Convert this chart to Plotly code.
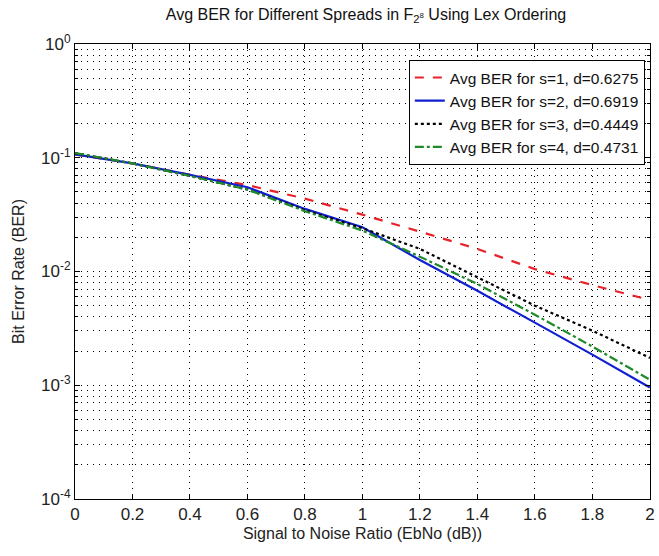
import plotly.graph_objects as go

snr_db = [0.0, 0.2, 0.4, 0.6, 0.8, 1.0, 1.2, 1.4, 1.6, 1.8, 2.0]
ber_s1 = [0.107, 0.0891, 0.0708, 0.0575, 0.0437, 0.0316, 0.0224, 0.0158, 0.0105, 0.00759, 0.00562]
ber_s2 = [0.107, 0.0891, 0.0708, 0.0550, 0.0355, 0.0245, 0.0126, 0.00676, 0.00355, 0.00186, 0.000955]
ber_s3 = [0.110, 0.0891, 0.0692, 0.0525, 0.0347, 0.0240, 0.0158, 0.00891, 0.00501, 0.00302, 0.00174]
ber_s4 = [0.110, 0.0891, 0.0692, 0.0525, 0.0339, 0.0229, 0.0135, 0.00776, 0.00417, 0.00219, 0.00112]

names = ["Avg BER for s=1, d=0.6275", "Avg BER for s=2, d=0.6919",
         "Avg BER for s=3, d=0.4449", "Avg BER for s=4, d=0.4731"]
colors = ["#e8222a", "#1020d0", "#000000", "#1f8a2a"]
dashes = ["dash", "solid", "dot", "dashdot"]

x_ticks = [0, 0.2, 0.4, 0.6, 0.8, 1, 1.2, 1.4, 1.6, 1.8, 2]
x_ticktext = ["0", "0.2", "0.4", "0.6", "0.8", "1", "1.2", "1.4", "1.6", "1.8", "2"]
y_ticks = [1e-4, 1e-3, 1e-2, 1e-1, 1]
y_ticktext = ["10<sup>-4</sup>", "10<sup>-3</sup>", "10<sup>-2</sup>", "10<sup>-1</sup>", "10<sup>0</sup>"]
y_minor = [m * d for d in [1e-4, 1e-3, 1e-2, 1e-1] for m in [2, 3, 4, 5, 6, 7, 8, 9]]

font = "Liberation Sans, Arial, sans-serif"
grid_dash = "1px,5px"

fig = go.Figure()
for ys, nm, c, d in zip([ber_s1, ber_s2, ber_s3, ber_s4], names, colors, dashes):
    fig.add_trace(go.Scatter(x=snr_db, y=ys, mode="lines", name=nm,
                             line=dict(color=c, dash=d, width=2.2)))

fig.update_layout(
    width=659, height=556,
    margin=dict(l=75, r=4, t=44, b=57),
    paper_bgcolor="white", plot_bgcolor="white",
    font=dict(family=font, size=16, color="#222222"),
    title=dict(text="Avg BER for Different Spreads in F<sub>2<sup>8</sup></sub> Using Lex Ordering",
               x=(366 / 659), xanchor="center", y=0.975, yanchor="middle",
               font=dict(size=16, color="#111111")),
    legend=dict(x=0.991, y=0.965, xanchor="right", yanchor="top",
                bgcolor="white", bordercolor="#000000", borderwidth=1,
                font=dict(size=15.5, color="#111111"), tracegroupgap=0),
    showlegend=True,
)

fig.update_xaxes(
    range=[0, 2.0005], tickvals=x_ticks, ticktext=x_ticktext,
    showline=True, linecolor="#000000", linewidth=1, mirror="allticks",
    ticks="inside", ticklen=5, tickcolor="#000000",
    showgrid=True, gridcolor="#000000", griddash=grid_dash, gridwidth=1,
    zeroline=False, ticklabeloverflow="allow",
    title=dict(text="Signal to Noise Ratio (EbNo (dB))", font=dict(size=16), standoff=4),
    tickfont=dict(size=17, color="#222222"),
)
fig.update_yaxes(
    type="log", range=[-4, 0], tickvals=y_ticks, ticktext=y_ticktext,
    showline=True, linecolor="#000000", linewidth=1, mirror="allticks",
    ticks="inside", ticklen=5, tickcolor="#000000",
    showgrid=True, gridcolor="#000000", griddash=grid_dash, gridwidth=1,
    zeroline=False,
    minor=dict(tickmode="array", tickvals=y_minor, ticks="inside", ticklen=3,
               tickcolor="#000000", showgrid=True,
               gridcolor="#000000", griddash=grid_dash, gridwidth=1),
    title=dict(text="Bit Error Rate (BER)", font=dict(size=16), standoff=12),
    tickfont=dict(size=17, color="#222222"),
)

fig.write_html("out.html")
